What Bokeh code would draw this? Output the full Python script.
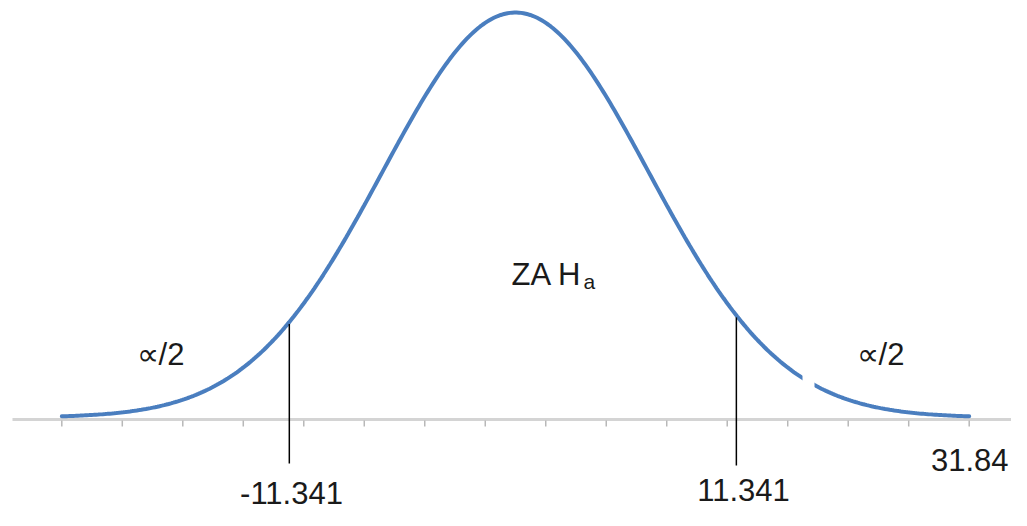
import numpy as np
from bokeh.plotting import figure
from bokeh.models import Range1d, ColumnDataSource
from bokeh.core.properties import value
from bokeh.embed import file_html
from bokeh.resources import INLINE

# ---- data (standardised units) ----
mean = 0.0
sd = 1.0
z_end = 3.41                      # curve drawn from -z_end to +z_end
crit_z = [-1.70, 1.66]            # positions of the two critical lines
crit_labels = ["-11.341", "11.341"]
end_label = "31.84"
n_ticks = 16
tail_label = "\u221d/2"
center_label = "ZA H"
center_sub = "a"

FONT = "Liberation Sans"

# ---- derived ----
xs = np.linspace(-z_end, z_end, 400)
ys = np.exp(-0.5 * ((xs - mean) / sd) ** 2)
tick_x = np.linspace(-z_end, z_end, n_ticks)
crit_top = [float(np.exp(-0.5 * ((c - mean) / sd) ** 2)) for c in crit_z]

k = 133.05      # px per unit x
ky = 405.0      # px per unit y
W, H = 1011, 510
cx = 515        # figure px of the mean
base = 419      # figure px (from top) of y = 0


def X(px):
    return (px - cx) / k


def Y(py):
    return (base - py) / ky


p = figure(width=W, height=H, output_backend="svg", toolbar_location=None,
           x_axis_type=None, y_axis_type=None, min_border=0,
           x_range=Range1d(X(0), X(W)), y_range=Range1d(Y(H), Y(0)))
p.outline_line_color = None
p.grid.visible = False
p.background_fill_color = "white"

# axis line and ticks
p.segment(x0=[X(12)], y0=[0], x1=[X(1040)], y1=[0],
          line_color="#d4d4d4", line_width=3)
p.segment(x0=tick_x, y0=np.full(n_ticks, -1.0 / ky), x1=tick_x,
          y1=np.full(n_ticks, -7.0 / ky), line_color="#b8b8b8", line_width=1.5)

# curve
p.line(xs, ys + 2.0 / ky, line_color="#4a7ebf", line_width=4, line_cap="round")

# white patch of a text box that hides a bit of the right tail
p.quad(left=[X(802)], right=[X(814)], bottom=[Y(392)], top=[Y(368)],
       fill_color="white", line_color=None)

# critical lines
p.segment(x0=crit_z, y0=crit_top, x1=crit_z, y1=[Y(463), Y(465)],
          line_color="black", line_width=1.5)

# labels
lab = ColumnDataSource(dict(
    x=[X(291), X(743)],
    y=[Y(503), Y(500)],
    t=crit_labels))
p.text(x="x", y="y", text="t", source=lab, text_font=value(FONT),
       text_font_size="31px", text_align="center", text_baseline="bottom",
       text_color="#1a1a1a")
p.text(x=[X(1008)], y=[Y(470)], text=[end_label], text_font=value(FONT),
       text_font_size="31px", text_align="right", text_baseline="bottom",
       text_color="#1a1a1a")

p.text(x=[X(160), X(880)], y=[Y(354), Y(354)],
       text=[tail_label, tail_label], text_font=value(FONT),
       text_font_size="31px", text_align="center", text_baseline="middle",
       text_color="#1a1a1a")

p.text(x=[X(511)], y=[Y(274)], text=[center_label],
       text_font=value(FONT), text_font_size="31px", text_align="left",
       text_baseline="middle", text_color="#1a1a1a")
p.text(x=[X(583)], y=[Y(281)], text=[center_sub],
       text_font=value(FONT), text_font_size="21px", text_align="left",
       text_baseline="middle", text_color="#1a1a1a")

open("out.html", "w").write(file_html(p, INLINE))
